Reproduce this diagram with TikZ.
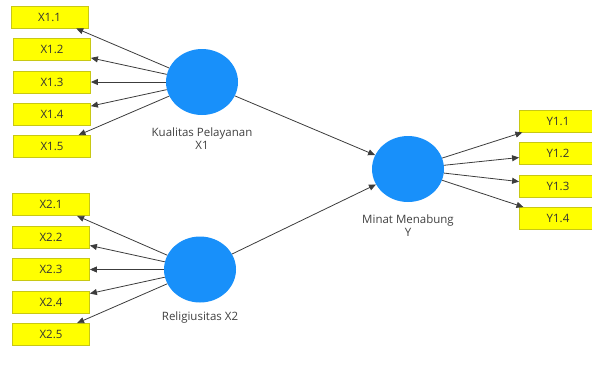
\documentclass[tikz,border=0pt]{standalone}
\usepackage{fontspec}
\setmainfont{Open Sans}
\usetikzlibrary{arrows.meta,shapes.geometric}
\definecolor{itemfill}{RGB}{255,255,0}
\definecolor{itemline}{RGB}{200,200,20}
\definecolor{lvblue}{RGB}{24,144,250}
\definecolor{pathgray}{RGB}{60,60,60}
\tikzset{
  item/.style={draw=itemline, fill=itemfill, line width=0.8pt, minimum width=77pt,
    minimum height=22pt, inner sep=0pt, text=black!80, font=\fontsize{11.5}{13}\selectfont},
  latent/.style={ellipse, fill=lvblue, minimum width=72pt, minimum height=66pt, inner sep=0pt},
  lvname/.style={align=center, text=black!75, font=\fontsize{11.5}{13}\selectfont},
  path/.style={draw=pathgray, line width=0.8pt, -{Triangle[length=7pt,width=6pt]}}
}
\begin{document}
\begin{tikzpicture}[x=1pt,y=-1pt]
\useasboundingbox (0,0) rectangle (592,373);
% latent variables
\node[latent] (kp) at (202,82) {};
\node[latent] (rel) at (200,269.5) {};
\node[latent] (mm) at (408,169) {};
\node[lvname] (kplabel) at (202,138.5) {Kualitas Pelayanan\\X1};
\node[lvname] (rellabel) at (200,318) {Religiusitas X2};
\node[lvname] (mmlabel) at (408,226) {Minat Menabung\\Y};
% indicators of X1
\node[item] (x11) at (49.5,17) {X1.1};
\node[item] (x12) at (52,49.5) {X1.2};
\node[item] (x13) at (52,82) {X1.3};
\node[item] (x14) at (52,114.5) {X1.4};
\node[item] (x15) at (52,146.5) {X1.5};
% indicators of X2
\node[item] (x21) at (51,204.5) {X2.1};
\node[item] (x22) at (51,237) {X2.2};
\node[item] (x23) at (51,269.5) {X2.3};
\node[item] (x24) at (51,302) {X2.4};
\node[item] (x25) at (51,334.5) {X2.5};
% indicators of Y
\node[item] (y11) at (558,121) {Y1.1};
\node[item] (y12) at (558,153.5) {Y1.2};
\node[item] (y13) at (558,186) {Y1.3};
\node[item] (y14) at (558,218.5) {Y1.4};
% loadings
\draw[path] (kp) -- (x11);
\draw[path] (kp) -- (x12);
\draw[path] (kp) -- (x13);
\draw[path] (kp) -- (x14);
\draw[path] (kp) -- (x15);
\draw[path] (rel) -- (x21);
\draw[path] (rel) -- (x22);
\draw[path] (rel) -- (x23);
\draw[path] (rel) -- (x24);
\draw[path] (rel) -- (x25);
\draw[path] (mm) -- (y11);
\draw[path] (mm) -- (y12);
\draw[path] (mm) -- (y13);
\draw[path] (mm) -- (y14);
% structural paths
\draw[path] (kp) -- (mm);
\draw[path] (rel) -- (mm);
\end{tikzpicture}
\end{document}
